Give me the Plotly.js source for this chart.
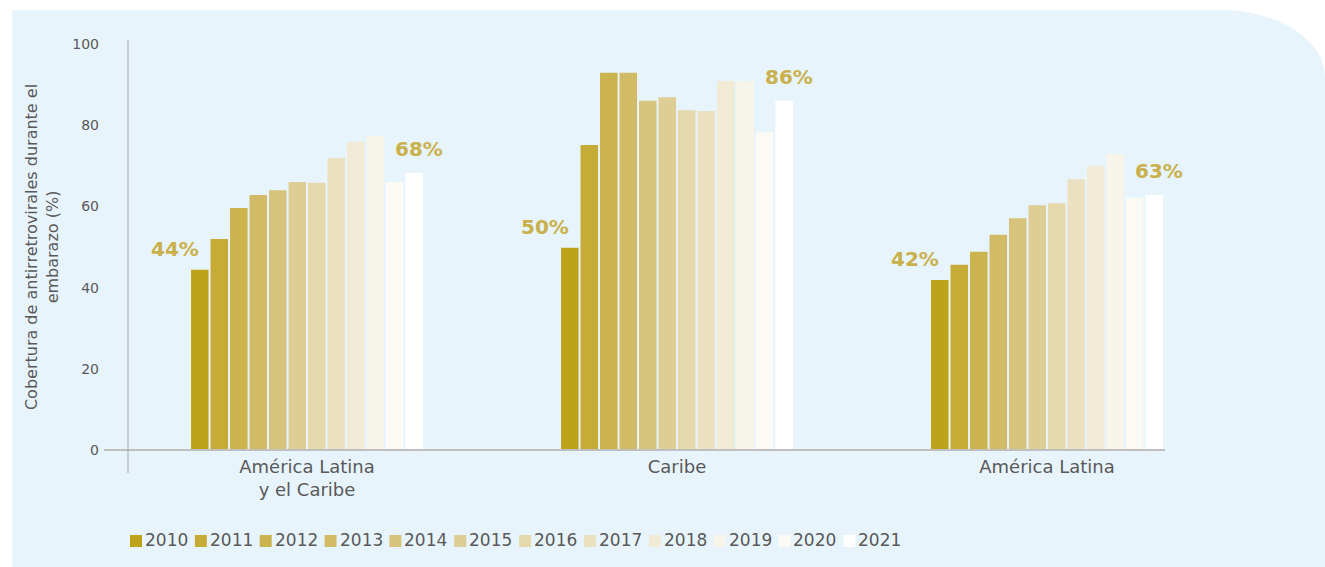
<!DOCTYPE html>
<html>
<head>
<meta charset="utf-8">
<script src="https://cdn.plot.ly/plotly-3.0.1.min.js"></script>
<style>
  html, body { margin: 0; padding: 0; background: #ffffff; }
  #wrap { position: relative; width: 1325px; height: 567px; overflow: hidden; }
  #panel { position: absolute; left: 12px; top: 10px; width: 1313px; height: 557px;
           background: #E8F4FC; border-top-right-radius: 105px 67px; }
  #chart { position: absolute; left: 0; top: 0; width: 1325px; height: 567px; }
</style>
</head>
<body>
<div id="wrap">
  <div id="panel"></div>
  <div id="chart"></div>
</div>
<script>
// ---- data ----
const categories = ["América Latina<br>y el Caribe", "Caribe", "América Latina"];
const years = ["2010","2011","2012","2013","2014","2015","2016","2017","2018","2019","2020","2021"];
const v2010 = [44.4, 49.8, 41.9];
const v2011 = [52.0, 75.1, 45.6];
const v2012 = [59.6, 92.9, 48.8];
const v2013 = [62.8, 92.9, 53.0];
const v2014 = [64.0, 86.0, 57.1];
const v2015 = [66.0, 86.9, 60.3];
const v2016 = [65.8, 83.7, 60.8];
const v2017 = [71.9, 83.5, 66.7];
const v2018 = [75.9, 90.9, 70.0];
const v2019 = [77.3, 90.8, 72.9];
const v2020 = [66.0, 78.3, 62.1];
const v2021 = [68.2, 86.0, 62.8];
const seriesValues = [v2010, v2011, v2012, v2013, v2014, v2015, v2016, v2017, v2018, v2019, v2020, v2021];
const yTicks = [0, 20, 40, 60, 80, 100];

// ---- styles ----
const colors = ["#BEA31A","#C6AC36","#CBB34E","#D1BB66","#D7C47C","#DECD94","#E5D9AB","#EBE1C1","#F1EBD6","#F7F4E9","#FBFAF5","#FFFFFF"];
const textGray = "#595959";
const labelGold = "#C9B04B";
const FONT = "DejaVu Sans, sans-serif";

const W = 1325, H = 567;
const M = { l: 122, r: 93, t: 44, b: 117 };
const plotW = W - M.l - M.r, plotH = H - M.t - M.b;
const px2paperX = px => (px - M.l) / plotW;
const px2paperY = py => (H - M.b - py) / plotH;

const traces = years.map((yr, i) => ({
  type: "bar",
  name: yr,
  x: categories,
  y: seriesValues[i],
  marker: { color: colors[i], line: { width: 0 } },
  hoverinfo: "skip",
  showlegend: false
}));

// percentage labels: first (2010) and last (2021) of each group
const nBars = years.length;
const slotPx = 19.5;
const annotations = [];
categories.forEach((c, ci) => {
  annotations.push({
    x: c, y: v2010[ci], xref: "x", yref: "y",
    text: Math.round(v2010[ci]) + "%", showarrow: false,
    xanchor: "right", yanchor: "bottom",
    xshift: -((nBars - 1) / 2) * slotPx + 1, yshift: 7,
    font: { family: FONT, size: 20, color: labelGold, weight: "bold" }
  });
  annotations.push({
    x: c, y: v2021[ci], xref: "x", yref: "y",
    text: Math.round(v2021[ci]) + "%", showarrow: false,
    xanchor: "center", yanchor: "bottom",
    xshift: ((nBars - 1) / 2) * slotPx + 5, yshift: 10,
    font: { family: FONT, size: 20, color: labelGold, weight: "bold" }
  });
});

// custom compact legend (square + label) built from years/colors
const shapes = [
  { type: "line", xref: "paper", yref: "paper", x0: px2paperX(104), x1: px2paperX(1165), y0: 0, y1: 0,
    line: { color: "#BFBFBF", width: 2 }, layer: "above" },
  { type: "line", xref: "paper", yref: "paper", x0: px2paperX(128), x1: px2paperX(128), y0: px2paperY(40), y1: px2paperY(473),
    line: { color: "#A6A6A6", width: 1 }, layer: "above" }
];
const legStart = 130, legStep = 64.85, legY = 540, sq = 12;
years.forEach((yr, i) => {
  const x0 = legStart + i * legStep;
  shapes.push({ type: "rect", xref: "paper", yref: "paper",
    x0: px2paperX(x0), x1: px2paperX(x0 + sq), y0: px2paperY(legY - sq / 2 + 1), y1: px2paperY(legY + sq / 2 + 1),
    fillcolor: colors[i], line: { width: 0 }, layer: "above" });
  annotations.push({ xref: "paper", yref: "paper", x: px2paperX(x0 + sq + 1), y: px2paperY(legY),
    text: yr, showarrow: false, xanchor: "left", yanchor: "middle",
    font: { family: FONT, size: 17, color: textGray } });
});

const layout = {
  width: W, height: H,
  margin: M,
  paper_bgcolor: "rgba(0,0,0,0)",
  plot_bgcolor: "rgba(0,0,0,0)",
  barmode: "group",
  bargap: 0.368,
  bargroupgap: 0.1,
  showlegend: false,
  xaxis: {
    type: "category", range: [-0.5, 2.5], showline: false, showgrid: false, zeroline: false,
    ticks: "", tickfont: { family: FONT, size: 18, color: textGray }, ticklabelstandoff: 4,
    fixedrange: true
  },
  yaxis: {
    range: [0, 100], tickvals: yTicks, ticktext: yTicks.map(String),
    showline: false, showgrid: false, zeroline: false, ticks: "",
    tickfont: { family: FONT, size: 14, color: textGray }, ticklabelstandoff: 22,
    title: { text: "Cobertura de antirretrovirales durante el<br>embarazo (%)", standoff: 9,
             font: { family: FONT, size: 16, color: textGray } },
    automargin: false, fixedrange: true
  },
  shapes: shapes,
  annotations: annotations
};

Plotly.newPlot("chart", traces, layout, { displayModeBar: false, staticPlot: true });
</script>
</body>
</html>
